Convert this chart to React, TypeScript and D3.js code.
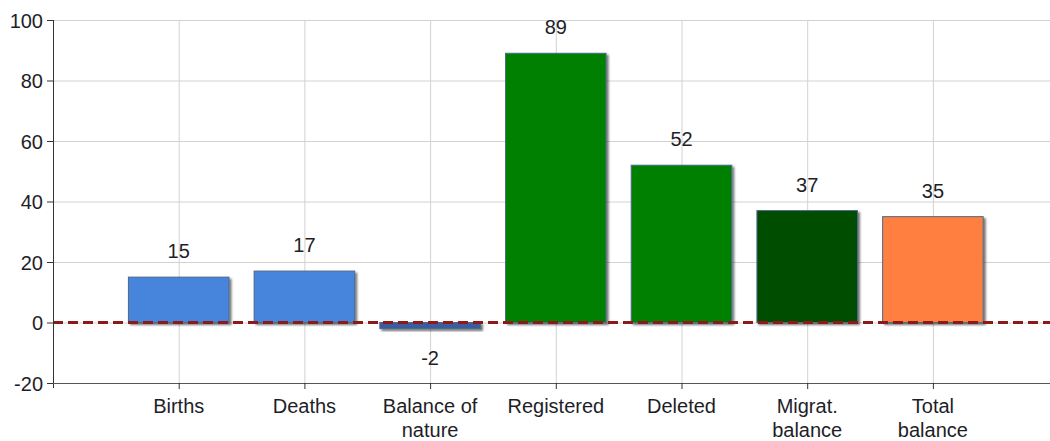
import { useEffect, useRef } from "react"
import * as d3 from "d3"

const categories = ["Births", "Deaths", "Balance of nature", "Registered", "Deleted", "Migrat. balance", "Total balance"]
const categoryLines = [["Births"], ["Deaths"], ["Balance of", "nature"], ["Registered"], ["Deleted"], ["Migrat.", "balance"], ["Total", "balance"]]
const values = [15, 17, -2, 89, 52, 37, 35]
const barColors = ["#4785dd", "#4785dd", "#3a5d9c", "#008000", "#008000", "#004d00", "#ff7f3f"]
const yTicks = [-20, 0, 20, 40, 60, 80, 100]

const width = 1050
const height = 441
const font = "Liberation Sans, Arial, sans-serif"

export default function App() {
  const svgRef = useRef<SVGSVGElement>(null)

  useEffect(() => {
    if (!svgRef.current) return
    const svg = d3.select(svgRef.current)
    svg.selectAll("*").remove()

    const left = 53
    const top = 20
    const bottom = 383
    const step = 125.7

    const x = d3.scaleLinear().domain([0, 8]).range([left, left + step * 8])
    const y = d3.scaleLinear().domain([-20, 100]).range([bottom, top])
    const barW = step * 0.8

    const defs = svg.append("defs")
    const filter = defs.append("filter").attr("id", "shadow").attr("x", "-10%").attr("y", "-10%").attr("width", "130%").attr("height", "160%")
    filter.append("feDropShadow").attr("dx", 2).attr("dy", 2).attr("stdDeviation", 0.8).attr("flood-color", "#000").attr("flood-opacity", 0.55)

    // grid
    svg.append("g")
      .selectAll("line")
      .data(yTicks)
      .enter()
      .append("line")
      .attr("x1", left)
      .attr("x2", width)
      .attr("y1", (d) => y(d) + 0.5)
      .attr("y2", (d) => y(d) + 0.5)
      .attr("stroke", "#d2d2d2")

    svg.append("g")
      .selectAll("line")
      .data(categories)
      .enter()
      .append("line")
      .attr("x1", (_d, i) => x(i + 1) + 0.5)
      .attr("x2", (_d, i) => x(i + 1) + 0.5)
      .attr("y1", top)
      .attr("y2", bottom)
      .attr("stroke", "#d2d2d2")

    // bars
    svg.append("g")
      .selectAll("rect")
      .data(values)
      .enter()
      .append("rect")
      .attr("x", (_d, i) => x(i + 1) - barW / 2)
      .attr("y", (d) => y(Math.max(0, d)))
      .attr("width", barW)
      .attr("height", (d) => Math.abs(y(d) - y(0)))
      .attr("fill", (_d, i) => barColors[i])
      .attr("stroke", "#4d6a8c")
      .attr("stroke-width", 1)
      .attr("filter", "url(#shadow)")

    // zero line
    svg.append("line")
      .attr("x1", left)
      .attr("x2", width)
      .attr("y1", y(0))
      .attr("y2", y(0))
      .attr("stroke", "#8b1a1a")
      .attr("stroke-width", 3)
      .attr("stroke-dasharray", "10,5")

    // value labels
    svg.append("g")
      .selectAll("text")
      .data(values)
      .enter()
      .append("text")
      .attr("x", (_d, i) => x(i + 1))
      .attr("y", (d) => (d >= 0 ? y(d) - 19 : y(d) + 36))
      .attr("text-anchor", "middle")
      .attr("font-family", font)
      .attr("font-size", "20px")
      .attr("fill", "#1e1e28")
      .text((d) => d)

    // axes
    svg.append("line")
      .attr("x1", left + 0.5)
      .attr("x2", left + 0.5)
      .attr("y1", top)
      .attr("y2", bottom + 5)
      .attr("stroke", "#333")
    svg.append("line")
      .attr("x1", left - 5)
      .attr("x2", width)
      .attr("y1", bottom + 0.5)
      .attr("y2", bottom + 0.5)
      .attr("stroke", "#555")

    const yAxis = svg.append("g")
    yAxis.selectAll("line")
      .data(yTicks)
      .enter()
      .append("line")
      .attr("x1", left - 6)
      .attr("x2", left)
      .attr("y1", (d) => y(d) + 0.5)
      .attr("y2", (d) => y(d) + 0.5)
      .attr("stroke", "#333")
    yAxis.selectAll("text")
      .data(yTicks)
      .enter()
      .append("text")
      .attr("x", left - 10)
      .attr("y", (d) => y(d) + 7.5)
      .attr("text-anchor", "end")
      .attr("font-family", font)
      .attr("font-size", "20px")
      .attr("fill", "#1e1e28")
      .text((d) => d)

    const xAxis = svg.append("g")
    xAxis.selectAll("line")
      .data(categories)
      .enter()
      .append("line")
      .attr("x1", (_d, i) => x(i + 1) + 0.5)
      .attr("x2", (_d, i) => x(i + 1) + 0.5)
      .attr("y1", bottom)
      .attr("y2", bottom + 6)
      .attr("stroke", "#333")
    const xt = xAxis.selectAll("text")
      .data(categoryLines)
      .enter()
      .append("text")
      .attr("text-anchor", "middle")
      .attr("font-family", font)
      .attr("font-size", "20px")
      .attr("fill", "#1e1e28")
    xt.each(function (lines, i) {
      const t = d3.select(this)
      lines.forEach((l, j) => {
        t.append("tspan")
          .attr("x", x(i + 1))
          .attr("y", 413 + j * 24)
          .text(l)
      })
    })
  }, [])

  return (
    <svg
      ref={svgRef}
      width={width}
      height={height}
      style={{ position: "absolute", left: 0, top: 0, background: "#fff" }}
    />
  )
}
